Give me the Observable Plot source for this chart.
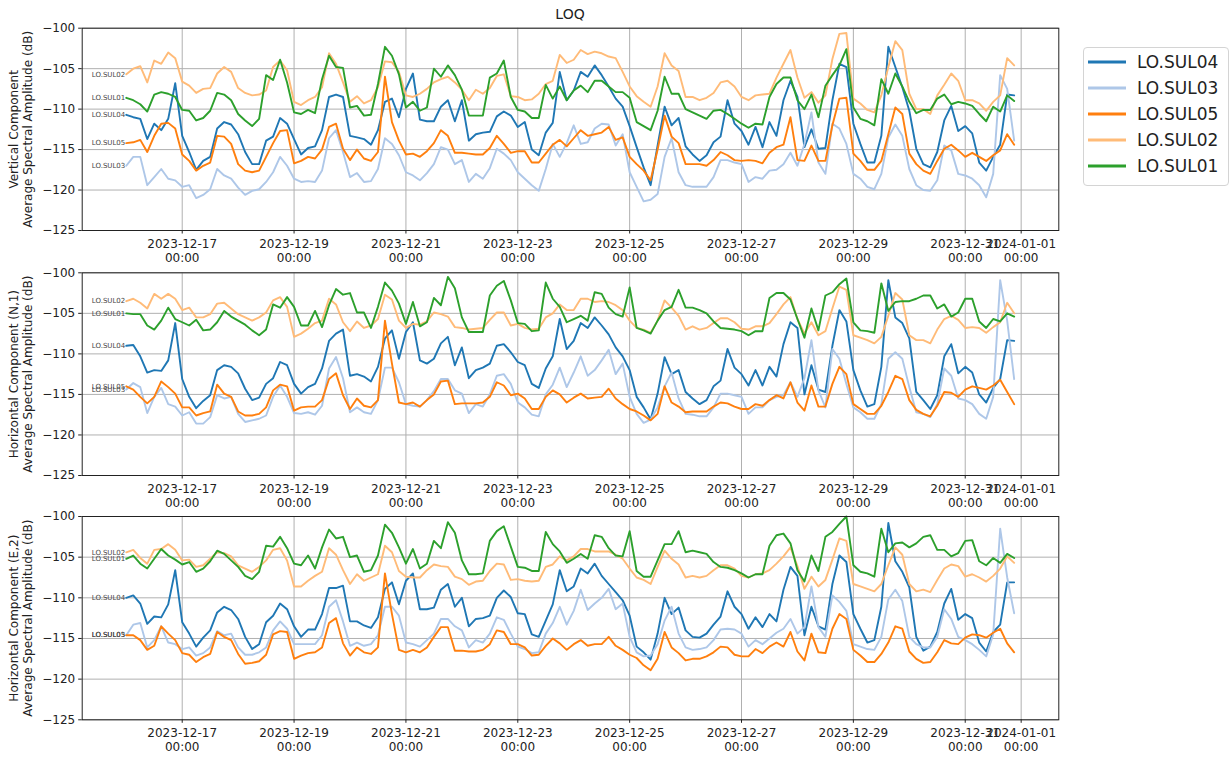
<!DOCTYPE html>
<html>
<head>
<meta charset="utf-8">
<script src="https://cdn.jsdelivr.net/npm/d3@7"></script>
<script src="https://cdn.jsdelivr.net/npm/@observablehq/plot@0.6"></script>
<style>
  body { margin: 0; background: #fff; font-family: "DejaVu Sans", sans-serif; }
  #root { position: relative; width: 1231px; height: 757px; overflow: hidden; background: #fff; }
  .panel { position: absolute; left: 0; }
  #title { position: absolute; left: 82px; width: 976px; top: 6px; text-align: center; font-size: 14px; color: #222; line-height: 17px; }
  #legend { position: absolute; left: 1083px; top: 47px; width: 144px; height: 137px; border: 1px solid #d4d4d4; border-radius: 4px; background: #fff; }
  .lrow { position: absolute; left: 0; height: 26px; width: 144px; }
  .lrow svg { position: absolute; left: 3px; top: 0; }
  .lrow span { position: absolute; left: 53px; top: 2px; font-size: 17px; color: #222; line-height: 22px; white-space: nowrap; }
</style>
</head>
<body>
<div id="root">
  <div id="title">LOQ</div>
</div>
<script>
// ---------------- data ----------------
const seriesNames = ["LO.SUL04", "LO.SUL03", "LO.SUL05", "LO.SUL02", "LO.SUL01"];
const seriesColors = ["#1f77b4", "#aec7e8", "#ff7f0e", "#ffbb78", "#2ca02c"];
const sampleStart = "2023-12-16T00:00:00Z";
const sampleStepHours = 3;
const sampleCount = 128;
const xTickDates = ["2023-12-17","2023-12-19","2023-12-21","2023-12-23","2023-12-25","2023-12-27","2023-12-29","2023-12-31","2024-01-01"];
const yTicks = [-125, -120, -115, -110, -105, -100];
const panelTitles = [
  "Vertical Component\nAverage Spectral Amplitude (dB)",
  "Horizontal Component (N,1)\nAverage Spectral Amplitude (dB)",
  "Horizontal Component (E,2)\nAverage Spectral Amplitude (dB)"
];

// Panel 1: Vertical component
const vertical_SUL04 = [
-110.7,-111.0,-111.2,-113.7,-111.8,-112.6,-111.2,-106.8,-113.3,-115.3,
-117.5,-116.4,-115.9,-112.4,-111.6,-111.9,-113.1,-115.3,-116.8,-116.8,
-113.9,-113.4,-111.1,-111.8,-113.7,-115.6,-114.8,-114.6,-112.6,-108.5,
-108.2,-108.5,-113.3,-113.5,-113.7,-114.4,-112.6,-109.1,-108.7,-111.0,
-107.5,-105.6,-111.3,-111.5,-111.5,-109.7,-108.9,-111.5,-108.9,-113.9,
-113.1,-112.9,-112.8,-110.9,-110.3,-110.8,-112.2,-111.6,-115.0,-115.7,
-112.9,-111.7,-105.4,-108.9,-107.7,-105.4,-106.0,-104.6,-105.8,-107.2,
-108.7,-109.7,-112.1,-114.7,-117.2,-119.4,-114.5,-109.7,-112.0,-111.1,
-114.6,-115.6,-116.4,-115.7,-114.1,-113.4,-108.9,-111.8,-112.7,-114.4,
-112.2,-114.7,-111.6,-113.3,-108.9,-106.5,-108.5,-114.7,-112.5,-114.9,
-114.8,-108.9,-104.4,-104.8,-111.8,-114.3,-116.6,-116.6,-113.3,-102.3,
-104.8,-107.3,-110.2,-114.9,-116.8,-117.2,-115.3,-111.4,-109.6,-112.7,
-112.1,-113.0,-116.6,-117.6,-115.9,-114.4,-108.2,-108.3];
const vertical_SUL03 = [
-117.0,-115.9,-115.9,-119.4,-118.4,-117.4,-118.6,-118.8,-119.6,-119.4,
-121.0,-120.6,-119.9,-117.4,-118.2,-118.6,-119.7,-120.6,-120.1,-119.9,
-119.0,-117.8,-115.9,-117.0,-118.6,-119.0,-118.9,-119.0,-117.6,-113.6,
-112.6,-115.3,-118.4,-117.9,-119.0,-118.9,-117.4,-113.6,-114.3,-115.7,
-117.8,-118.2,-118.8,-117.9,-116.8,-114.7,-115.0,-116.8,-116.3,-119.0,
-118.0,-118.6,-117.3,-114.9,-115.5,-116.3,-117.8,-118.6,-119.4,-120.1,
-117.4,-114.3,-115.9,-114.2,-112.0,-114.3,-114.1,-112.4,-111.8,-111.9,
-114.5,-113.1,-117.8,-119.6,-121.4,-121.2,-120.5,-115.9,-113.6,-117.8,
-119.4,-119.6,-119.6,-119.6,-118.4,-116.3,-116.3,-116.6,-116.8,-119.0,
-118.4,-118.6,-117.6,-117.5,-116.8,-115.4,-117.0,-114.3,-110.4,-116.6,
-118.0,-111.8,-112.4,-114.3,-118.0,-118.6,-119.6,-119.9,-118.0,-113.5,
-111.9,-113.3,-117.4,-119.4,-120.0,-120.1,-118.8,-114.5,-115.1,-118.0,
-118.2,-118.6,-119.4,-120.9,-118.0,-105.8,-107.5,-113.9];
const vertical_SUL05 = [
-114.2,-114.1,-113.8,-115.3,-113.3,-111.8,-111.7,-112.4,-115.6,-116.4,
-117.6,-117.0,-116.6,-113.3,-113.4,-114.3,-116.8,-117.6,-117.8,-117.6,
-115.9,-114.2,-112.7,-112.6,-116.7,-116.4,-115.9,-116.1,-115.0,-112.2,
-111.8,-114.9,-116.3,-115.0,-116.1,-116.4,-115.3,-106.0,-111.6,-113.9,
-115.6,-115.5,-115.9,-115.2,-114.2,-112.6,-113.3,-115.4,-115.4,-115.5,
-115.6,-115.6,-114.8,-113.3,-114.3,-115.4,-115.2,-115.2,-116.6,-116.6,
-115.5,-114.4,-113.8,-114.6,-113.6,-112.6,-113.3,-113.1,-112.9,-112.2,
-113.8,-113.5,-115.9,-116.8,-117.6,-118.8,-115.0,-110.8,-113.4,-114.2,
-116.8,-116.8,-116.8,-117.0,-116.3,-115.3,-115.7,-116.3,-116.4,-116.3,
-116.4,-116.7,-115.4,-114.7,-114.4,-111.0,-116.3,-116.4,-114.5,-116.4,
-116.4,-112.0,-108.7,-108.6,-115.5,-116.4,-117.5,-117.5,-116.4,-113.1,
-109.8,-110.6,-115.5,-116.8,-117.6,-118.0,-116.4,-114.9,-114.4,-115.1,
-115.9,-115.4,-115.9,-116.4,-115.7,-115.1,-113.1,-114.4];
const vertical_SUL02 = [
-105.7,-105.0,-104.7,-106.7,-104.0,-104.4,-103.0,-103.7,-106.6,-107.1,
-108.0,-107.5,-107.4,-105.6,-104.8,-105.4,-107.4,-108.0,-108.3,-108.2,
-107.7,-104.8,-104.0,-105.2,-109.1,-109.5,-108.9,-108.5,-107.3,-103.1,
-104.4,-106.7,-109.1,-108.4,-109.3,-108.9,-107.3,-104.1,-104.2,-105.4,
-108.3,-108.5,-108.1,-107.5,-106.7,-106.3,-106.0,-106.7,-107.6,-108.9,
-107.6,-108.1,-107.4,-105.9,-105.7,-108.4,-108.5,-108.9,-108.8,-108.1,
-106.9,-106.5,-103.3,-104.3,-103.9,-102.7,-103.2,-102.9,-103.1,-103.5,
-103.7,-105.4,-107.2,-108.4,-109.1,-109.7,-107.2,-103.1,-104.6,-105.3,
-108.5,-108.5,-108.9,-108.6,-108.0,-106.7,-106.5,-107.2,-108.5,-108.9,
-108.3,-108.2,-108.1,-106.1,-104.4,-102.7,-106.1,-108.6,-107.9,-109.2,
-108.3,-103.8,-100.7,-100.6,-108.7,-109.3,-110.1,-110.4,-108.3,-104.8,
-101.6,-102.7,-108.1,-110.0,-110.0,-110.6,-108.3,-107.0,-105.6,-106.5,
-108.9,-108.9,-109.3,-110.2,-109.1,-108.3,-103.7,-104.6];
const vertical_SUL01 = [
-108.6,-108.9,-109.4,-110.3,-108.2,-107.9,-108.1,-108.5,-110.1,-110.2,
-111.4,-111.1,-110.2,-108.0,-108.2,-108.9,-110.6,-111.4,-112.1,-111.2,
-105.8,-106.4,-103.9,-106.7,-110.4,-110.6,-110.1,-110.5,-106.3,-103.4,
-104.8,-104.9,-109.8,-109.6,-110.8,-110.7,-106.9,-102.3,-103.4,-105.7,
-109.8,-109.1,-110.2,-109.8,-105.0,-106.0,-104.6,-105.8,-107.6,-110.8,
-110.8,-110.8,-106.1,-105.6,-104.0,-108.5,-110.1,-110.3,-111.1,-111.1,
-107.0,-108.7,-107.2,-108.9,-107.7,-107.1,-107.9,-106.5,-106.5,-107.2,
-107.9,-107.9,-108.6,-111.6,-112.1,-112.6,-110.2,-106.0,-108.1,-108.1,
-110.0,-110.4,-110.8,-111.2,-110.2,-110.1,-110.6,-111.2,-111.8,-112.3,
-111.8,-111.9,-108.5,-106.9,-106.1,-106.1,-108.9,-110.0,-108.2,-111.0,
-107.1,-105.8,-104.6,-102.6,-109.8,-111.2,-111.5,-112.0,-106.3,-108.1,
-105.6,-107.2,-109.1,-110.5,-110.1,-110.1,-108.7,-108.2,-109.4,-109.1,
-109.3,-109.6,-110.6,-111.5,-109.7,-110.3,-108.3,-109.0];

// Panel 2: Horizontal component (N,1)
const north_SUL04 = [
-109.0,-108.9,-110.3,-112.3,-112.0,-112.1,-110.8,-106.2,-113.1,-115.3,
-116.7,-115.8,-115.1,-112.0,-111.4,-111.6,-112.4,-114.3,-115.7,-115.4,
-113.7,-113.0,-111.0,-111.4,-113.7,-114.9,-114.1,-113.7,-111.8,-108.4,
-107.5,-107.0,-112.7,-112.5,-112.8,-113.4,-111.6,-108.1,-107.1,-110.6,
-107.3,-106.1,-110.8,-111.2,-110.6,-108.7,-107.9,-111.4,-109.2,-113.0,
-112.0,-111.7,-111.2,-109.0,-108.8,-109.8,-111.0,-111.4,-113.7,-114.2,
-111.8,-110.3,-105.7,-109.4,-108.4,-106.2,-106.8,-105.5,-106.5,-107.6,
-109.2,-110.3,-112.0,-115.3,-116.6,-118.1,-114.9,-110.4,-112.5,-112.0,
-114.7,-115.5,-116.2,-115.7,-114.0,-113.3,-109.4,-111.7,-112.5,-113.9,
-112.0,-113.9,-111.6,-112.8,-108.8,-106.1,-106.8,-115.0,-111.4,-114.4,
-114.7,-109.0,-104.6,-106.0,-112.0,-114.5,-116.5,-116.2,-111.6,-100.9,
-105.5,-106.2,-108.1,-114.7,-115.7,-116.8,-115.1,-110.3,-108.8,-112.4,
-111.6,-112.3,-115.0,-116.0,-114.2,-113.1,-108.3,-108.4];
const north_SUL03 = [
-114.4,-113.6,-114.1,-117.3,-115.3,-114.2,-116.2,-116.5,-117.6,-117.2,
-118.6,-118.6,-117.8,-115.1,-115.5,-115.3,-117.4,-118.4,-118.2,-118.0,
-117.6,-115.3,-113.9,-115.3,-117.3,-117.4,-117.2,-117.5,-116.4,-111.8,
-110.4,-113.0,-117.2,-116.6,-117.2,-117.4,-115.7,-111.7,-111.7,-113.5,
-116.2,-116.4,-116.5,-115.7,-114.6,-113.1,-113.1,-114.5,-114.9,-117.3,
-116.2,-116.5,-115.0,-112.7,-112.5,-113.7,-116.0,-116.6,-117.5,-117.7,
-115.0,-113.8,-111.7,-114.1,-112.3,-110.3,-112.7,-112.0,-110.8,-109.5,
-112.5,-111.2,-115.3,-117.4,-118.5,-118.1,-116.6,-114.0,-112.3,-115.5,
-117.4,-117.5,-117.7,-117.7,-116.6,-114.9,-114.9,-115.1,-115.3,-117.4,
-116.6,-116.6,-115.7,-115.3,-115.1,-113.5,-115.3,-113.0,-108.3,-114.5,
-116.6,-109.4,-110.6,-113.7,-116.6,-117.2,-118.0,-118.0,-116.2,-110.6,
-109.8,-110.6,-114.1,-117.2,-117.4,-117.8,-116.2,-111.8,-112.7,-115.5,
-115.7,-116.2,-117.4,-118.0,-115.3,-100.9,-105.9,-113.1];
const north_SUL05 = [
-114.0,-114.4,-115.3,-116.1,-115.3,-113.4,-114.1,-114.9,-116.6,-116.6,
-117.6,-117.3,-117.1,-113.8,-114.9,-115.3,-117.1,-117.6,-117.6,-117.4,
-116.6,-114.5,-113.8,-114.0,-117.0,-116.6,-116.5,-116.5,-115.7,-113.1,
-112.4,-115.1,-116.8,-115.5,-116.4,-116.6,-115.7,-105.9,-111.2,-116.0,
-116.2,-116.0,-116.5,-115.7,-115.0,-113.4,-113.3,-116.2,-116.1,-116.1,
-116.1,-116.0,-115.3,-113.5,-113.9,-115.1,-114.9,-115.5,-116.8,-116.8,
-115.3,-114.5,-115.0,-116.0,-115.4,-114.9,-115.5,-115.4,-115.3,-114.3,
-115.5,-116.2,-116.8,-117.1,-117.6,-118.2,-117.4,-114.0,-116.0,-116.5,
-117.2,-117.1,-117.1,-117.1,-116.5,-116.0,-116.1,-116.5,-116.8,-116.8,
-116.2,-116.4,-115.7,-115.1,-115.5,-113.5,-116.0,-117.0,-113.9,-116.5,
-116.5,-113.7,-111.6,-112.5,-116.2,-116.8,-117.4,-117.4,-116.4,-114.7,
-112.7,-113.1,-115.7,-116.9,-117.4,-117.7,-116.4,-114.7,-114.8,-115.3,
-114.4,-114.0,-114.2,-114.4,-113.9,-113.2,-114.7,-116.2];
const north_SUL02 = [
-103.5,-103.2,-103.7,-104.4,-102.6,-103.2,-102.6,-103.2,-104.6,-104.3,
-105.5,-105.5,-105.1,-103.8,-103.7,-104.4,-105.1,-105.5,-105.9,-105.5,
-104.9,-103.4,-103.0,-104.2,-107.9,-107.5,-106.9,-106.2,-105.9,-103.2,
-103.9,-106.1,-107.2,-106.0,-106.8,-106.5,-105.7,-102.7,-103.3,-105.9,
-106.8,-106.3,-106.4,-106.0,-104.9,-105.1,-105.4,-106.7,-106.8,-107.0,
-106.9,-106.8,-105.8,-104.9,-104.9,-106.5,-106.3,-106.8,-107.0,-106.9,
-105.5,-105.0,-103.9,-104.6,-104.6,-103.2,-103.2,-103.6,-103.5,-103.6,
-104.0,-104.6,-105.9,-106.8,-107.0,-107.4,-105.9,-103.4,-104.3,-105.3,
-107.0,-106.6,-107.0,-106.8,-106.2,-105.6,-105.6,-106.1,-106.9,-107.0,
-106.6,-106.6,-106.2,-105.1,-103.9,-103.0,-105.7,-107.5,-106.1,-107.7,
-107.2,-104.4,-101.7,-102.1,-107.7,-108.0,-108.3,-108.7,-107.9,-105.3,
-102.5,-103.3,-107.7,-108.3,-108.3,-108.7,-107.0,-105.7,-105.3,-105.8,
-106.8,-106.7,-106.8,-107.4,-106.7,-106.1,-103.7,-105.0];
const north_SUL01 = [
-105.0,-105.1,-105.1,-106.5,-107.0,-105.9,-104.3,-105.7,-106.1,-106.5,
-105.8,-107.1,-107.0,-106.1,-104.7,-105.4,-105.9,-106.4,-107.1,-107.7,
-107.0,-103.9,-104.3,-103.0,-104.2,-106.5,-106.5,-104.7,-106.7,-104.0,
-102.0,-102.7,-102.5,-104.9,-104.9,-106.8,-104.2,-101.2,-102.2,-103.8,
-106.3,-103.6,-106.6,-106.1,-103.1,-104.0,-100.5,-101.9,-105.5,-107.3,
-107.3,-107.3,-102.8,-101.6,-101.0,-103.4,-106.2,-106.3,-107.2,-107.1,
-101.2,-103.2,-104.2,-106.1,-105.7,-105.3,-105.9,-102.4,-102.6,-104.3,
-105.1,-105.4,-101.8,-106.8,-107.1,-107.5,-105.9,-104.6,-104.2,-102.1,
-104.3,-104.3,-104.6,-105.0,-106.0,-106.8,-106.9,-107.0,-107.2,-107.7,
-107.2,-107.2,-103.1,-102.5,-102.5,-103.3,-105.7,-108.0,-104.4,-107.1,
-102.8,-102.4,-101.4,-100.7,-106.1,-107.1,-107.2,-107.4,-101.3,-104.7,
-103.6,-103.5,-103.5,-103.2,-102.8,-102.8,-104.4,-103.9,-105.4,-104.9,
-103.2,-103.2,-106.0,-106.8,-105.7,-106.0,-105.0,-105.4];

// Panel 3: Horizontal component (E,2)
const east_SUL04 = [
-110.0,-109.7,-110.7,-113.2,-112.3,-112.4,-110.8,-106.6,-113.0,-114.4,
-116.0,-114.9,-114.0,-111.8,-111.1,-111.5,-112.6,-114.8,-116.3,-115.7,
-113.0,-112.2,-110.7,-111.4,-113.5,-114.8,-113.9,-113.9,-112.0,-108.8,
-108.8,-108.5,-112.9,-112.9,-113.4,-113.7,-112.4,-108.9,-108.1,-110.8,
-107.9,-107.0,-111.4,-111.4,-111.2,-109.0,-108.3,-111.1,-110.0,-113.5,
-112.6,-112.5,-112.2,-110.0,-109.1,-109.9,-111.9,-112.0,-114.5,-114.8,
-112.8,-110.8,-106.6,-109.2,-108.6,-106.4,-107.0,-105.8,-107.3,-108.3,
-109.3,-110.3,-112.2,-116.0,-116.7,-117.6,-114.4,-110.0,-112.0,-111.2,
-114.0,-114.8,-114.9,-114.4,-113.3,-112.3,-109.2,-111.1,-112.0,-113.8,
-112.4,-113.6,-112.0,-112.9,-109.0,-106.2,-107.3,-114.6,-111.1,-113.5,
-113.9,-108.3,-104.8,-105.6,-112.0,-113.8,-115.5,-115.2,-111.1,-100.8,
-105.5,-106.8,-108.7,-114.8,-116.5,-116.0,-114.2,-110.7,-108.9,-112.7,
-112.0,-112.5,-115.5,-116.6,-114.2,-113.3,-108.1,-108.1];
const east_SUL03 = [
-114.6,-113.3,-113.1,-116.1,-115.2,-113.5,-115.5,-115.7,-116.3,-116.1,
-117.1,-116.8,-116.1,-114.1,-114.6,-114.4,-116.1,-117.0,-117.0,-116.7,
-116.1,-114.0,-112.9,-113.8,-115.7,-115.7,-115.7,-115.7,-114.6,-111.1,
-110.3,-112.9,-115.9,-115.5,-115.9,-115.7,-114.6,-111.1,-111.1,-112.2,
-115.5,-115.7,-116.0,-115.2,-114.4,-112.6,-112.6,-113.5,-114.0,-116.1,
-115.2,-115.5,-114.4,-112.4,-112.7,-114.4,-116.0,-116.3,-116.8,-116.7,
-114.4,-113.1,-111.1,-113.3,-111.6,-109.0,-111.5,-110.7,-110.0,-108.9,
-111.4,-110.7,-114.8,-116.7,-117.2,-117.1,-115.7,-112.8,-111.1,-114.4,
-116.1,-116.4,-116.3,-116.1,-115.2,-113.9,-113.8,-113.9,-114.4,-116.0,
-115.2,-115.7,-115.0,-114.3,-113.8,-112.6,-114.4,-113.6,-108.6,-113.6,
-114.8,-109.7,-110.5,-111.6,-115.7,-116.0,-116.3,-116.4,-114.8,-110.2,
-109.0,-110.4,-114.8,-115.7,-116.1,-116.1,-114.8,-111.4,-112.6,-114.8,
-115.2,-115.7,-116.4,-117.2,-114.5,-101.5,-107.5,-111.9];
const east_SUL05 = [
-114.6,-114.6,-115.2,-116.4,-115.9,-113.5,-114.4,-115.2,-116.8,-117.0,
-117.9,-117.3,-116.9,-114.2,-114.8,-115.2,-116.9,-118.1,-118.0,-117.8,
-117.0,-114.5,-114.1,-114.2,-117.5,-117.1,-116.8,-116.7,-116.1,-113.1,
-112.5,-115.6,-117.1,-116.1,-116.7,-116.9,-116.1,-107.0,-112.0,-116.4,
-116.7,-116.4,-116.7,-116.1,-114.8,-113.6,-113.6,-116.5,-116.5,-116.6,
-116.6,-116.4,-115.7,-114.0,-114.2,-115.7,-115.7,-116.1,-117.1,-117.0,
-115.9,-115.0,-115.6,-116.4,-115.7,-115.2,-115.9,-115.7,-115.7,-114.8,
-115.9,-116.4,-117.0,-117.4,-118.3,-118.9,-117.5,-114.2,-116.1,-116.8,
-117.7,-117.5,-117.5,-117.2,-116.7,-116.0,-116.1,-117.0,-117.2,-117.2,
-116.3,-116.8,-116.0,-115.5,-116.0,-114.2,-116.6,-117.7,-114.4,-116.7,
-116.8,-113.8,-112.0,-112.6,-116.4,-117.1,-117.9,-117.9,-116.9,-115.5,
-113.5,-113.8,-116.6,-117.5,-118.0,-117.9,-116.7,-115.2,-115.6,-115.7,
-114.9,-114.5,-114.6,-114.9,-114.3,-113.8,-115.6,-116.7];
const east_SUL02 = [
-104.4,-104.1,-105.1,-105.8,-104.1,-104.0,-103.4,-104.1,-105.4,-105.3,
-106.2,-106.0,-105.2,-104.4,-104.5,-104.9,-106.0,-106.4,-106.8,-106.2,
-105.4,-104.1,-103.9,-105.4,-108.6,-108.6,-107.9,-107.3,-106.8,-103.9,
-104.7,-106.6,-108.3,-107.1,-107.9,-107.5,-107.1,-103.6,-104.4,-106.7,
-107.4,-107.5,-107.5,-106.6,-105.9,-106.1,-106.2,-107.4,-107.7,-108.4,
-108.0,-107.9,-106.7,-105.8,-105.9,-107.8,-107.7,-107.9,-108.0,-107.9,
-106.2,-105.9,-104.9,-105.4,-104.9,-104.0,-104.0,-104.3,-104.3,-104.3,
-104.7,-105.2,-106.4,-107.5,-107.8,-108.3,-106.2,-104.2,-105.2,-105.9,
-107.5,-107.3,-107.5,-107.3,-106.6,-106.0,-106.0,-106.4,-107.3,-107.5,
-107.1,-107.0,-106.6,-105.8,-104.9,-103.8,-106.1,-108.9,-107.4,-108.6,
-107.8,-105.3,-102.7,-103.0,-108.3,-108.6,-108.9,-109.2,-108.3,-106.0,
-103.8,-104.7,-108.3,-109.2,-109.0,-109.3,-107.8,-106.4,-105.9,-106.1,
-107.4,-107.1,-107.5,-108.0,-107.3,-106.4,-104.9,-105.7];
const east_SUL01 = [
-105.2,-104.8,-105.8,-106.4,-105.2,-104.0,-104.8,-105.3,-105.9,-105.6,
-106.8,-106.4,-105.5,-104.2,-104.6,-105.4,-106.2,-107.3,-107.7,-106.8,
-103.6,-103.7,-102.5,-103.9,-105.8,-106.0,-104.8,-106.4,-103.8,-101.6,
-102.7,-102.5,-105.0,-104.8,-106.8,-106.6,-104.8,-101.0,-102.0,-103.8,
-105.8,-104.0,-106.4,-105.8,-103.0,-103.9,-100.7,-102.0,-105.4,-107.1,
-107.1,-107.0,-103.0,-101.8,-101.2,-103.7,-106.2,-106.3,-106.7,-106.7,
-101.9,-103.4,-104.3,-105.7,-105.2,-104.6,-105.2,-102.3,-102.5,-103.9,
-104.8,-104.9,-101.8,-106.7,-107.4,-107.4,-105.4,-103.4,-103.4,-101.8,
-104.4,-104.2,-104.4,-104.6,-105.6,-106.2,-106.3,-106.6,-107.0,-107.5,
-107.1,-107.1,-103.6,-102.3,-102.1,-103.3,-106.6,-108.0,-104.8,-106.7,
-102.5,-101.9,-100.9,-100.0,-106.0,-106.8,-107.0,-107.4,-101.5,-104.4,
-103.3,-103.2,-103.8,-103.3,-102.5,-102.3,-104.1,-104.1,-104.9,-104.5,
-103.0,-102.9,-105.5,-106.0,-105.1,-105.7,-104.6,-105.1];

// ---------------- build ----------------
const t0 = new Date(sampleStart).getTime();
const sampleTimes = d3.range(sampleCount).map(i => new Date(t0 + i * sampleStepHours * 3600e3));
const tickDates = xTickDates.map(s => new Date(s + "T00:00:00Z"));
const xDomain = [new Date("2023-12-15T05:05:00Z"), new Date("2024-01-01T16:09:00Z")];

const panels = [
  {values: [vertical_SUL04, vertical_SUL03, vertical_SUL05, vertical_SUL02, vertical_SUL01], top: 0, height: 262, mt: 27.7, mb: 32},
  {values: [north_SUL04, north_SUL03, north_SUL05, north_SUL02, north_SUL01], top: 262, height: 245, mt: 10.3, mb: 32},
  {values: [east_SUL04, east_SUL03, east_SUL05, east_SUL02, east_SUL01], top: 507, height: 250, mt: 9, mb: 37.7}
];

const root = document.getElementById("root");

panels.forEach((p, pi) => {
  const rows = [];
  seriesNames.forEach((name, k) => {
    p.values[k].forEach((v, i) => rows.push({time: sampleTimes[i], value: v, name}));
  });
  const firsts = seriesNames.map((name, k) => ({time: sampleTimes[0], value: p.values[k][0], name}));

  const chart = Plot.plot({
    width: 1231,
    height: p.height,
    marginLeft: 81.7,
    marginRight: 172.7,
    marginTop: p.mt,
    marginBottom: p.mb,
    style: {background: "transparent", overflow: "visible", fontFamily: "DejaVu Sans, sans-serif", color: "#222"},
    x: {type: "utc", domain: xDomain},
    y: {domain: [-125, -100]},
    color: {domain: seriesNames, range: seriesColors},
    marks: [
      Plot.gridX({ticks: tickDates, stroke: "#b0b0b0", strokeOpacity: 1, strokeWidth: 1}),
      Plot.gridY({ticks: yTicks, stroke: "#b0b0b0", strokeOpacity: 1, strokeWidth: 1}),
      Plot.lineY(rows, {x: "time", y: "value", z: "name", stroke: "name", strokeWidth: 1.9}),
      Plot.text(firsts, {x: "time", y: "value", text: "name", textAnchor: "end", dx: -1, fontSize: 7, fill: "#444"}),
      Plot.frame({stroke: "#222", strokeWidth: 1}),
      Plot.axisX({ticks: tickDates, tickFormat: d3.utcFormat("%Y-%m-%d\n%H:%M"), tickSize: 3.5, tickPadding: 3.5, fontSize: 12, lineHeight: 1.2, label: null, color: "#222"}),
      Plot.axisY({ticks: yTicks, tickFormat: d3.format("d"), tickSize: 3.5, tickPadding: 3.5, fontSize: 12, label: null, color: "#222"}),
      Plot.text([panelTitles[pi]], {frameAnchor: "left", dx: -61.7, rotate: -90, text: d => d, fontSize: 12, lineHeight: 1.2, textAnchor: "middle", lineAnchor: "middle", fill: "#222"})
    ]
  });
  const wrap = document.createElement("div");
  wrap.className = "panel";
  wrap.style.top = p.top + "px";
  wrap.appendChild(chart);
  root.appendChild(wrap);
});

// legend
const legend = d3.select(root).append("div").attr("id", "legend");
seriesNames.forEach((name, k) => {
  const row = legend.append("div").attr("class", "lrow").style("top", (0.5 + 26.2 * k) + "px");
  const svg = row.append("svg").attr("width", 42).attr("height", 26);
  svg.append("line").attr("x1", 1).attr("x2", 39).attr("y1", 13).attr("y2", 13)
    .attr("stroke", seriesColors[k]).attr("stroke-width", 3.2);
  row.append("span").text(name);
});
</script>
</body>
</html>
